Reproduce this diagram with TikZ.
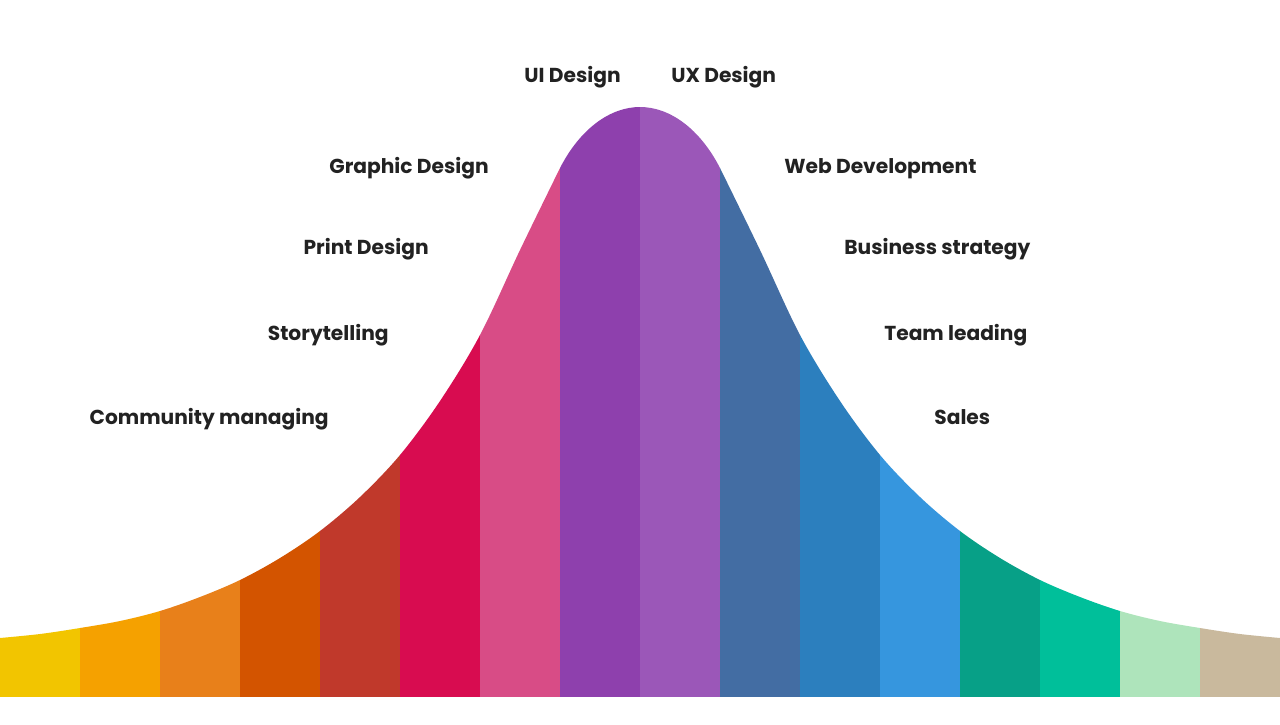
\documentclass[tikz,border=0pt]{standalone}
\usepackage{fontspec}
\setmainfont{Poppins}
\usetikzlibrary{positioning}

\definecolor{c1}{HTML}{F2C500}
\definecolor{c2}{HTML}{F5A100}
\definecolor{c3}{HTML}{E8801A}
\definecolor{c4}{HTML}{D35400}
\definecolor{c5}{HTML}{C0392B}
\definecolor{c6}{HTML}{D80C50}
\definecolor{c7}{HTML}{D84C86}
\definecolor{c8}{HTML}{8E40AD}
\definecolor{c9}{HTML}{9B57B8}
\definecolor{c10}{HTML}{436DA3}
\definecolor{c11}{HTML}{2C7FBE}
\definecolor{c12}{HTML}{3696DE}
\definecolor{c13}{HTML}{07A087}
\definecolor{c14}{HTML}{00BF9A}
\definecolor{c15}{HTML}{AEE4BB}
\definecolor{c16}{HTML}{C9B99D}
\definecolor{labelgray}{HTML}{222222}

\tikzset{
  skill/.style={font=\fontsize{11.5}{13}\selectfont\bfseries, text=labelgray, inner sep=0pt},
  leftskill/.style={skill, anchor=base east},
  rightskill/.style={skill, anchor=base west}
}

\begin{document}
\begin{tikzpicture}[x=0.02cm, y=-0.02cm]

% Canvas
\useasboundingbox (0,0) rectangle (1280,724);

% Bell curve with coloured strips
\begin{scope}
\clip plot[smooth, tension=0.55] coordinates {
  (0,638) (40,634) (80,628) (120,621) (160,611) (200,597) (240,580) (280,558)
  (320,531) (360,497) (400,455) (440,401) (480,335) (520,250) (560,168)}
  .. controls (580,129) and (610,107) .. (640,107)
  .. controls (670,107) and (700,129) .. (720,168)
  -- plot[smooth, tension=0.55] coordinates {
  (720,168) (760,250) (800,335) (840,401) (880,455) (920,497) (960,531)
  (1000,558) (1040,580) (1080,597) (1120,611) (1160,621) (1200,628) (1240,634)
  (1280,638)}
  -- (1280,697) -- (0,697) -- cycle;
\foreach \i in {1,...,16} {
  \fill[c\i] ({(\i-1)*80-0.4},100) rectangle ({\i*80+0.4},697);
}
\end{scope}

% Labels, left side
\node[leftskill] (ui) at (621,82) {UI Design};
\node[leftskill] (graphic) at (489,173) {Graphic Design};
\node[leftskill] (print) at (429,254) {Print Design};
\node[leftskill] (story) at (389,340) {Storytelling};
\node[leftskill] (community) at (329,424) {Community managing};

% Labels, right side
\node[rightskill] (ux) at (671,82) {UX Design};
\node[rightskill] (web) at (784,173) {Web Development};
\node[rightskill] (business) at (844,254) {Business strategy};
\node[rightskill] (team) at (884,340) {Team leading};
\node[rightskill] (sales) at (934,424) {Sales};

\end{tikzpicture}
\end{document}
